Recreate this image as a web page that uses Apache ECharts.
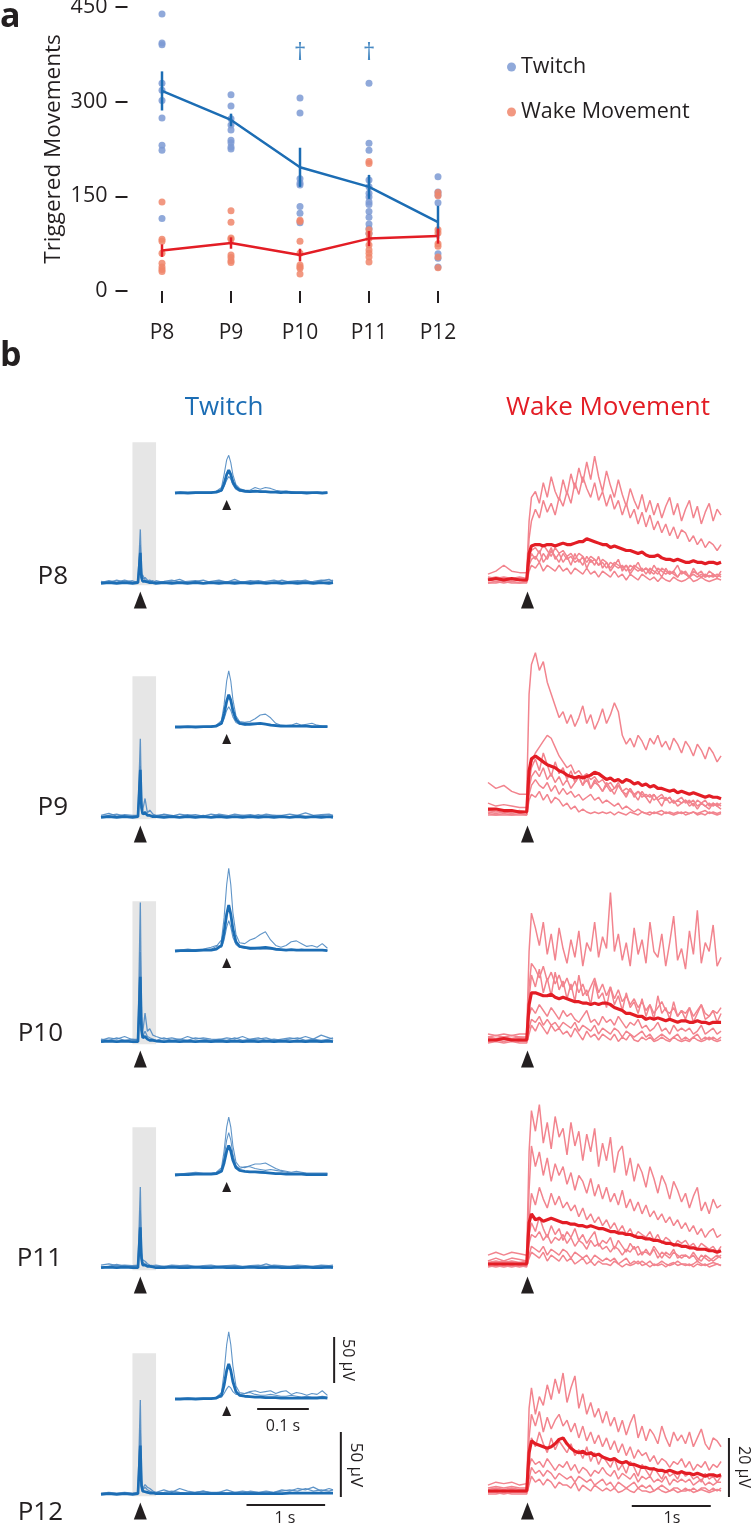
<!DOCTYPE html>
<html>
<head>
<meta charset="utf-8">
<script src="https://cdn.jsdelivr.net/npm/echarts@6/dist/echarts.min.js"></script>
<style>
html, body { margin: 0; padding: 0; background: #fff; }
#chart { width: 752px; height: 1526px; }
</style>
</head>
<body>
<div id="chart"></div>
<script>
// ---------- panel a : triggered movements per age ----------
var ages = ['P8', 'P9', 'P10', 'P11', 'P12'];
var twitchMean = [317, 271, 196, 165, 109];
var twitchErr = [31, 10, 31, 19, 26];
var wakeMean = [64, 76, 57, 83, 87];
var wakeErr = [10, 9, 10, 12, 12];
// individual pups, one list per age
var twitchPts = [
    [439, 393, 390, 329, 318, 302, 274, 231, 223, 115],
    [311, 293, 273, 263, 255, 239, 235, 228, 225],
    [306, 282, 178, 171, 168, 134, 123, 108],
    [329, 234, 223, 176, 165, 155, 149, 141, 137, 126, 117, 106, 99, 91],
    [181, 157, 152, 140, 59, 52, 38]
];
var wakePts = [
    [141, 82, 79, 60, 44, 38, 34, 31],
    [127, 109, 84, 82, 57, 53, 48, 45],
    [112, 110, 79, 60, 41, 38, 36, 27],
    [205, 202, 97, 91, 83, 73, 65, 60, 54, 46],
    [156, 151, 97, 92, 75, 71, 54, 37]
];
var daggerAges = [2, 3];
var daggerLevel = 377;

// ---------- panel b : triggered spinal activity (µV) ----------
// time (s) of the full twitch traces
var tMain = [-0.5, -0.4, -0.3, -0.2, -0.1, -0.03, 0, 0.015, 0.03, 0.06, 0.09, 0.12, 0.16, 0.2,
    0.3, 0.4, 0.5, 0.6, 0.7, 0.8, 0.9, 1.0, 1.1, 1.2, 1.3, 1.4, 1.5, 1.6, 1.7, 1.8, 1.9, 2.0,
    2.1, 2.2, 2.3, 2.4, 2.45];
// time (s) of the zoomed twitch insets
var tInset = [-0.1, -0.09, -0.075, -0.06, -0.045, -0.03, -0.02, -0.01, -0.005, 0,
    0.004, 0.008, 0.012, 0.018, 0.025,
    0.035, 0.045, 0.055, 0.065, 0.075, 0.085, 0.095, 0.105, 0.115, 0.125, 0.135, 0.145, 0.155,
    0.165, 0.175, 0.185, 0.195];
// time (s) of the wake traces
var tWake = [-0.5, -0.4, -0.3, -0.2, -0.1, -0.01,
    0.02, 0.05, 0.1, 0.15, 0.2, 0.25, 0.3, 0.35, 0.4, 0.45,
    0.5, 0.55, 0.6, 0.65, 0.7, 0.75, 0.8, 0.85, 0.9, 0.95,
    1.0, 1.05, 1.1, 1.15, 1.2, 1.25, 1.3, 1.35, 1.4, 1.45,
    1.5, 1.55, 1.6, 1.65, 1.7, 1.75, 1.8, 1.85, 1.9, 1.95,
    2.0, 2.05, 2.1, 2.15, 2.2, 2.25, 2.3, 2.35, 2.4, 2.45];

// twitch traces: first = mean, rest = individual pups
var twP8 = [
    [0.5,1,0.5,1,0.5,1, 24, 5,2,2,1.5,1,1,0.5, 1,0.5,1,0.5,1,0.5,1,0.5,1,0.5, 1,0.5,1,0.5,1,0.5,1,0.5,1,0.5, 1,0.5,1],
    [1,2.5,1.5,3,1.5,2, 42, 9,4,5,3,2,2.5,1.5, 2,3,1.5,2,2.5,1,2,3,1.5,2, 1.5,2.5,1,2,3,1.5,2,2.5,1.5,2, 3,2,3],
    [2,1,3,1.5,2.5,1, 30, 5,7,3,2,3,1,2.5, 1,2,3.5,1,2,3,1,2,1.5,3.5, 1,2,2.5,1.5,1,3,1.5,2,3,1, 2.5,3.5,2]
];
var twP9 = [
    [0.5,1,0.5,1,0.5,1, 37, 8,3,4,2,2,1,1, 0.5,1,0.5,1,0.5,1,0.5,1,0.5,1, 0.5,1,0.5,1,0.5,1,0.5,1,0.5,1, 0.5,1,0.5],
    [2,3.5,1.5,2.5,2,2, 61, 12,6,15,4,6,3,2, 2.5,1.5,3,2,2.5,1.5,3,2,1.5,3, 2,2.5,1.5,3,2,2,3,2,4,2, 2.5,3,2],
    [1,2,3,1.5,1,1.5, 40, 7,3,5,3,2,2,1, 3,2,1,2.5,1,2,1,3,2,1, 2,1,2.5,1,2,1.5,1,2,1.5,1, 2,1,2]
];
var twP10 = [
    [1,1.5,1,1.5,1,1, 51, 10,4,5,3,2,2,1.5, 1,1.5,1,1.5,1,1.5,1,1.5,1,1.5, 1,1.5,1,1.5,1,1.5,1,1.5,1,1.5, 1,1.5,1],
    [2,4,3,5,2.5,3, 108, 20,8,23,9,11,6,5, 3,4,2.5,5,3,4,3,2.5,4,3, 5,2.5,3,4,2,3,4,3,5,3, 6,4,3],
    [3,2,4,2,3,2, 70, 12,5,9,5,4,3,2, 4,2,3,2,4,3,2,3,2,4, 2,3,4,2,3,2,3,4,2,3, 2,3,4]
];
var twP11 = [
    [1,1.5,1,1.5,1,1, 32, 8,3,3,2,2,1.5,1, 1,1.5,1,1,1.5,1,1,1.5,1,1, 1,1.5,1,1,1.5,1,1,1,1.5,1, 1,1.5,1],
    [3,4,2.5,3,2.5,3, 63, 12,7,6,4,3,2.5,3, 2,3,2.5,3,2,2.5,3,2,2.5,3, 2,2.5,3,2,3,2.5,2,3,2.5,2, 3,2.5,3],
    [1.5,2,3.5,2,2,2.5, 45, 9,5,4,3,2.5,2,1.5, 2,1.5,2,2.5,1.5,2,1.5,2,2.5,2, 1.5,2,2,4,2,1.5,2,2,1.5,2, 2.5,2,2]
];
var twP12 = [
    [0.5,1,0.5,1,0.5,1, 38, 7,3,2.5,2,1.5,1.5,1, 1,1,1,1,1,1,1,1,1,1, 1,1,1,1,1,1,1.5,1.5,1.5,1.5, 1.5,1.5,1.5],
    [1.5,2,1.5,2,1.5,2, 73, 11,5,8,6,5,3,2, 4,2,5,3,2,3,2,2,4,2, 3,2,2,3,2,4,3,5,4,6, 3,5,4],
    [1,1.5,1,1.5,1,1.5, 50, 8,4,6,4,3,2,1.5, 2,3,2,1.5,2,3,1.5,2,1.5,2, 1.5,3,2,1.5,2,3,4,3,5,3, 4,3,4]
];

// zoomed twitch insets: first = mean
var inP8 = [
    [0,0.5,0,0.5,0.5,0.5,1,3,10,20, 25,20,12,6,3, 2,1.5,2,1.5,1.5,1,1,0.5,1,0.5, 0.5,0.5,0,0.5,0.5,0,0.5],
    [0.5,1,0.5,1,1,1,2,6,20,36, 41,33,20,9,5, 3,3,6,4,6,5,3,2,2,1.5, 1,1,1,0.5,1,0.5,1],
    [0,0,0.5,0.5,0,0.5,0.5,2,7,14, 18,15,9,4,2, 1,1,1.5,2,1,1.5,0.5,0.5,0.5,0, 0.5,0,0,0,0.5,0,0]
];
var inP9 = [
    [0,0,0.5,0,0.5,0.5,1,4,14,28, 35,29,18,8,4, 3,3,3.5,4,3,2,1.5,1,1,1, 1,1,1,0.5,0.5,0.5,0.5],
    [0.5,0,0.5,0.5,0.5,1,2,7,24,50, 61,50,30,12,6, 5,6,9,13,14,10,4,2,1.5,2, 4,2,3,4,2,1,1],
    [0,0.5,0,0.5,0,0,1,3,9,18, 22,18,11,5,3, 2,4,4,4,3,3,2,1,1,1, 0.5,1,0.5,0.5,0.5,0.5,0]
];
var inP10 = [
    [0,0.5,0.5,0.5,1,1,2,6,20,40, 50,40,24,10,5, 4,3,3,3.5,4,3,2,1.5,1,1.5, 1,1,1,1,1,1,0.5],
    [0.5,1,2,1,1,2,5,12,36,72, 90,72,42,18,9, 8,12,14,18,21,12,6,4,6,10, 11,8,5,6,4,8,3],
    [0,0,0.5,1.5,2,4,6,4,12,26, 33,26,15,7,4, 3,2,3,2,2,2,1,1,1,1, 1,2,1,1,1,1,0.5]
];
var inP11 = [
    [0,0.5,0.5,1,1,1,1.5,4,13,26, 32,26,16,8,5, 4,3.5,3.5,3,2.5,2,1.5,1.5,1,1, 1,1,0.5,0.5,0.5,0.5,0.5],
    [1,1,2,3,2,2,3,8,26,52, 63,52,32,14,9, 8,10,12,12,13,10,7,5,4,3, 4,3,2,2,2,2,2],
    [0.5,0.5,1,1,0.5,1,2,6,19,38, 46,38,23,10,7, 9,9,7,6,5,6,5,4,3,2, 2,2,1.5,1,1,1,1]
];
var inP12 = [
    [0,0,0.5,0,0.5,0.5,1,4,15,31, 38,31,19,8,4, 3,2.5,2,2,1.5,1.5,1.5,1,1,1, 1,1,1,1,1,1.5,1],
    [0.5,0.5,1,0.5,1,1,2,7,29,59, 73,59,36,14,7, 6,8,9,7,8,9,6,8,9,5, 7,6,4,6,5,9,4],
    [0,0,0.5,0.5,0.5,0.5,1,2,6,11, 14,12,8,5,5, 6,7,5,4,4,5,4,3,3,4, 3,2,3,2,2,3,2]
];

// wake traces: first = mean
var wkP8 = [
    [0,0.5,0,0.5,0,0, 9,11.5,12,12,11.5,12,12,11.5,12,12.5, 12,12,12.5,13,13,14,13.5,13,12.5,12,
     12,11,11.5,11,10.5,10,10,9.5,9,9.5, 8.5,8,8,8.5,7.5,7,7,6.5,7,6.5, 6,6,6.5,6,6,5.5,6,6,5.5,6],
    [2,3,5,3,2.5,2.5, 20,28,30,26,33,28,35,30,27,34, 29,36,31,38,33,40,34,42,35,30,
     37,32,28,34,29,25,31,27,24,29, 23,27,22,26,21,25,28,22,26,20, 24,27,21,25,19,23,26,20,24,22],
    [1,0.5,1,0.5,1,0.5, 14,20,24,21,27,23,26,22,28,25, 30,26,33,29,35,31,28,33,27,30,
     25,29,24,27,22,26,21,24,19,23, 18,22,17,20,16,19,15,18,14,17, 16,13,15,12,14,11,13,12,10,12],
    [-1,-0.5,-1,-0.5,-1,-0.5, 5,7,8,6,9,7,10,8,6,9, 7,8,6,7,5,8,6,7,5,6,
     4,6,5,4,5,3,5,4,3,4, 2,4,3,2,4,3,2,3,1,3, 2,1,3,2,1,2,1,2,1,2],
    [0,-0.5,0,-0.5,0,-0.5, 8,10,11,9,12,10,8,11,9,10, 8,9,7,9,8,6,8,7,5,7,
     6,4,6,5,4,5,3,5,4,3, 4,3,2,4,3,2,3,2,1,3, 2,1,2,1,2,1,1.5,1,2,1],
    [0.5,1,0.5,0,0.5,0, 6,9,7,10,6,8,11,7,9,6, 8,5,9,6,8,4,7,5,8,4,
     6,3,5,7,3,5,2,4,6,3, 4,2,5,3,1,4,2,3,5,2, 3,1,4,2,3,1,3,2,1,3],
    [-1,-1,-0.5,-1,-1,-1, 3,5,4,6,3,5,4,3,5,3, 4,2,4,3,2,4,2,3,1,3,
     2,1,3,1,2,0,2,1,0,2, 1,0,1,-0.5,1,0,-0.5,1,0,-0.5, 0,1,-0.5,0,1,0,-0.5,0,0.5,0]
];
var wkP9 = [
    [1,1,0.5,0.5,0,0, 14,18,19,18,17,16,15.5,15,14,13.5, 12.5,12,11.5,12,11.5,12,12.5,13.5,13,12,
     11,11.5,10.5,11,10,11,10.5,9.5,10,9, 9.5,8.5,9,8,8,7.5,7,7.5,6.5,7, 6.5,6,6.5,6,5.5,5,5.5,5,5,4.5],
    [10,8,9,7,6,6, 40,50,54,48,51,44,40,36,32,34, 30,33,29,32,36,30,33,28,31,35,
     30,33,37,34,26,23,25,22,26,24, 21,25,23,26,22,24,21,25,23,20, 24,22,19,23,21,18,22,20,17,19],
    [3,2,2.5,2,1.5,1.5, 12,17,20,22,24,26,25,22,19,17, 15,16,13,14,12,13,11,12,10,11,
     9,10,8,9,7,8,7,6,7,5, 6,5,6,4,5,4,5,3,4,3, 4,3,4,2,3,4,2,3,2,3],
    [-1,-1,-1,-1,-1,-1, 6,9,11,9,8,10,7,9,6,8, 6,7,5,6,4,5,6,4,5,3,
     4,3,2,3,1,2,1,0,1,0, -0.5,0,-0.5,0,0.5,-0.5,0,-0.5,0,-0.5, 0,-0.5,0,-0.5,0,0.5,-0.5,0,-0.5,0],
    [0,-0.5,0,-0.5,0,0, 8,12,14,12,15,11,13,10,12,9, 11,8,10,12,9,11,8,10,9,7,
     9,7,8,10,7,6,8,5,7,6, 5,6,4,5,6,4,5,3,4,5, 3,4,2,4,3,2,3,2,3,2],
    [0.5,0,0.5,0,0.5,0, 10,15,18,14,20,16,12,17,13,15, 11,14,10,12,9,13,8,11,9,7,
     10,8,6,9,7,5,8,6,4,7, 5,3,6,4,2,5,3,4,2,3, 4,2,3,1,3,2,1,3,2,1],
    [-0.5,-1,-0.5,-1,-0.5,-1, 4,6,5,7,4,6,3,5,4,2, 3,1,2,0,1,0,-0.5,0,-0.5,0,
     -0.5,0,-1,0,-0.5,-1,0,-0.5,-1,0, -0.5,-1,0,-0.5,-1,0,-0.5,-1,-0.5,0, -1,-0.5,0,-1,-0.5,-1,0,-0.5,-1,-0.5]
];
var wkP10 = [
    [0,0,0.5,0,0,0, 12,16,16,15.5,15,15,15.5,14.5,14,14.5, 14,13.5,13,13,12.5,12.5,12,12.5,12,12.5,
     12.5,12,11,10.5,10,9,9,8.5,8,8, 7,7.5,7,7.5,7,6.5,7,6.5,6,6.5, 6.5,6,6,6.5,6,6,5.5,6,6,6],
    [2,1.5,2,1.5,2,2, 30,43,38,32,40,29,36,27,38,31, 26,34,28,37,25,33,30,40,28,35,
     31,50,30,36,27,33,25,38,29,34, 26,40,30,28,36,25,33,42,27,31, 24,37,29,44,26,33,30,39,25,28],
    [1,1.5,1,1.5,1,1, 18,26,24,21,25,20,23,19,22,18, 21,17,20,16,19,15,18,21,16,19,
     15,18,14,17,13,15,12,14,11,13, 10,12,9,11,13,10,9,11,8,10, 9,11,8,10,12,9,8,10,9,11],
    [-0.5,0,-0.5,0,-0.5,-0.5, 4,7,6,8,5,7,5,6,4,6, 5,4,6,3,5,4,3,5,2,4,
     3,2,4,3,1,3,2,1,2,3, 1,2,0,1,2,1,0,1,2,0, 1,0,1,2,0,1,0,1,0,1],
    [0.5,0,0.5,0,0.5,0, 8,11,9,12,10,8,11,9,7,10, 8,9,7,6,8,10,6,7,5,8,
     6,7,5,8,6,4,6,5,7,4, 5,3,4,6,3,4,2,5,3,4, 3,4,2,3,5,2,3,4,2,3],
    [1,0.5,1,0.5,1,0.5, 14,22,18,24,16,21,15,23,17,20, 14,19,13,22,15,17,12,20,14,16,
     11,18,12,15,10,16,11,13,9,14, 8,12,7,15,9,11,7,13,8,10, 7,11,6,9,12,7,8,10,6,9],
    [-1,-0.5,-1,-0.5,-1,-1, 2,5,3,6,4,2,5,3,4,2, 3,1,4,2,0,3,1,2,0,2,
     1,0,2,-0.5,1,0,2,0,-0.5,1, 0,1,-0.5,0,1,0,-0.5,1,0,-0.5, 0,-0.5,1,0,-0.5,0,1,0,-0.5,0]
];
var wkP11 = [
    [0,0,0,0,0,0, 14,17,15,15.5,14.5,15,15.5,15,14.5,14, 14,13.5,13.5,13,13,12.5,13,12.5,12,12,
     11.5,11,11,10.5,10.5,10,10,9.5,9,9, 8.5,8.5,8,8,7.5,7,7,6.5,6.5,6, 6,5.5,5.5,5,5,5,4.5,4.5,4,4.5],
    [3,4,3,4,3.5,3, 38,52,45,54,41,48,39,50,43,46, 37,48,40,45,35,44,38,46,33,41,
     35,43,31,38,40,30,36,28,34,31, 26,33,29,24,30,27,22,28,25,21, 24,19,23,26,18,21,17,22,19,20],
    [1,2,1,2,1.5,1, 25,40,33,38,30,36,28,34,30,33, 27,31,25,30,28,24,29,23,27,22,
     26,21,24,20,25,19,22,18,21,17, 20,16,18,15,17,14,16,13,15,12, 14,11,13,10,12,9,11,12,9,10],
    [0.5,1,0.5,1,0.5,1, 15,24,20,26,22,19,24,20,23,19, 21,18,20,16,19,15,17,14,16,13,
     15,12,14,11,13,10,12,9,11,10, 9,11,8,10,7,9,8,6,8,7, 8,6,7,5,7,6,5,6,4,6],
    [-0.5,-1,-0.5,-1,-0.5,-1, 3,6,5,4,6,3,5,4,3,5, 4,2,4,3,2,3,1,3,2,1,
     2,1,2,0,1,2,0,1,0,1, 0,1,-0.5,0,1,0,-0.5,0,1,0, 0,-0.5,0,1,0,-0.5,0,0.5,0,-0.5],
    [0,0.5,0,0.5,0,0.5, 7,10,9,11,8,10,7,9,8,10, 7,9,6,8,7,5,8,6,7,5,
     6,4,6,5,3,5,4,6,3,4, 4,3,5,2,4,3,2,4,3,2, 3,2,3,1,3,2,1,2,3,2],
    [0.5,0,1,0,0.5,0, 10,14,11,16,12,9,13,10,12,8, 11,9,12,8,10,7,9,11,6,8,
     7,9,5,8,6,4,7,5,6,3, 5,3,6,4,2,4,3,5,2,3, 3,2,4,2,1,3,2,1,2,3],
    [-1,-0.5,-1,-0.5,-1,-0.5, 2,4,3,2,4,1,3,2,1,3, 1,2,0,1,2,0,1,-0.5,1,0,
     0,-0.5,1,0,-1,0,-0.5,0,1,-0.5, 0,-1,0,-0.5,0,-1,0,0.5,-0.5,0, -0.5,0,-1,0,-0.5,0,-1,-0.5,0,-0.5]
];
var wkP12 = [
    [0,0,0,0,0,0, 13,17,16,15.5,15,14.5,15,16,17.5,18, 16,14.5,13.5,13,13.5,12.5,13,12,12.5,11.5,
     11,10.5,11,10,9.5,10,9,9,8.5,8, 8,7.5,7.5,7,7,6.5,7,6.5,6,6.5, 6,6,5.5,6,5.5,5,5.5,5.5,5,5.5],
    [2,3,2.5,3,2,2.5, 28,35,26,32,29,36,31,38,33,40, 30,35,39,28,33,26,30,25,28,23,
     27,22,25,20,24,19,23,26,18,22, 17,21,19,16,22,18,15,20,17,19, 16,20,15,18,21,16,14,18,17,15],
    [1,1.5,1,1.5,1,1, 18,26,22,27,20,25,21,24,26,22, 24,20,23,18,22,17,20,16,19,15,
     18,14,17,13,16,12,15,11,14,12, 13,10,12,9,11,10,8,10,9,11, 8,10,7,9,8,10,7,9,8,10],
    [-0.5,-0.5,-1,-0.5,-0.5,-0.5, 4,8,6,7,5,7,6,4,6,5, 4,5,3,5,4,3,4,2,3,4,
     2,3,1,3,2,1,2,3,1,2, 1,2,0,1,2,1,0,1,1,0, 1,0,1,0,1,1,0,1,0,1],
    [0.5,1,0.5,1,0.5,0.5, 8,11,9,10,8,11,9,7,9,8, 10,7,9,6,8,7,5,7,6,8,
     6,5,7,4,6,5,4,6,3,5, 4,5,3,4,3,5,2,4,3,4, 3,4,2,3,4,2,3,2,3,3],
    [0,0.5,0,0.5,0,0.5, 12,18,15,20,16,13,18,14,17,15, 13,16,12,14,11,15,10,13,9,12,
     10,8,11,7,9,6,10,8,5,9, 7,5,8,6,4,7,5,6,4,7, 5,6,4,5,3,6,4,5,3,5],
    [-1,-1,-0.5,-1,-1,-1, 2,5,3,4,2,4,3,1,3,2, 2,1,3,0,2,1,0,2,1,0,
     1,0,1,-0.5,0,1,0,-0.5,1,0, 0,-0.5,0,1,0,-0.5,0,0.5,-0.5,0, 0,0.5,-0.5,0,0.5,0,-0.5,0,0.5,0]
];

var twitchRows = [twP8, twP9, twP10, twP11, twP12];
var insetRows = [inP8, inP9, inP10, inP11, inP12];
var wakeRows = [wkP8, wkP9, wkP10, wkP11, wkP12];

// ---------- layout ----------
var FONT = 'Open Sans';
var INK = '#231f20';
var BLUE = '#1c6db4';
var BLUE_THIN = '#4f89c2';
var RED = '#e31d25';
var PINK = '#f2848e';

var baseTwitch = [584, 818, 1043, 1269, 1495];
var baseInset = [493, 727, 951, 1175, 1399];
var baseWake = [580, 812, 1040, 1264, 1491];
var labelX = [68, 68, 63, 62, 63];
var labelY = [577, 808, 1034, 1259, 1513];
var scMain = 1.3, scInset = 0.92, scWake = 2.95; // px per µV
var pxSecMain = 78.64, pxSecInset = 516.7, pxSecWake = 79; // px per s

var grids = [], xAxes = [], yAxes = [], series = [];

// panel a
grids.push({ left: 127.5, top: 7, width: 345, height: 284, outerBoundsMode: 'none' });
xAxes.push({
    type: 'category', gridIndex: 0, data: ages, offset: 12,
    axisLine: { show: false },
    axisTick: { show: true, alignWithLabel: true, length: 12, lineStyle: { color: INK, width: 2 } },
    axisLabel: { color: INK, fontSize: 21, fontFamily: FONT, margin: 20 }
});
yAxes.push({
    type: 'value', gridIndex: 0, min: 0, max: 450, interval: 150,
    name: 'Triggered Movements', nameLocation: 'middle', nameGap: 62,
    nameTextStyle: { color: INK, fontSize: 22.5, fontFamily: FONT },
    axisLine: { show: false }, splitLine: { show: false },
    axisTick: { show: true, length: 12, lineStyle: { color: INK, width: 2 } },
    axisLabel: { color: INK, fontSize: 21.5, fontFamily: FONT, margin: 20 }
});

function dots(lists) {
    var out = [];
    lists.forEach(function (vals, i) {
        vals.forEach(function (v) { out.push([i, v]); });
    });
    return out;
}
function errBars(mean, err, color) {
    return {
        type: 'custom', xAxisIndex: 0, yAxisIndex: 0, z: 4,
        data: mean.map(function (m, i) { return [i, m - err[i], m + err[i]]; }),
        renderItem: function (params, api) {
            var a = api.coord([api.value(0), api.value(1)]);
            var b = api.coord([api.value(0), api.value(2)]);
            return { type: 'line', shape: { x1: a[0], y1: a[1], x2: b[0], y2: b[1] },
                     style: { stroke: color, lineWidth: 2.5 } };
        }
    };
}
series.push({
    name: 'Twitch', type: 'scatter', xAxisIndex: 0, yAxisIndex: 0, symbolSize: 7, z: 2,
    itemStyle: { color: '#7d9ad3', opacity: 0.85 }, data: dots(twitchPts)
});
series.push({
    name: 'Wake Movement', type: 'scatter', xAxisIndex: 0, yAxisIndex: 0, symbolSize: 7, z: 2,
    itemStyle: { color: '#f0866b', opacity: 0.85 }, data: dots(wakePts)
});
series.push({
    type: 'line', xAxisIndex: 0, yAxisIndex: 0, symbol: 'none', z: 3,
    lineStyle: { color: BLUE, width: 2.5 }, data: twitchMean
});
series.push({
    type: 'line', xAxisIndex: 0, yAxisIndex: 0, symbol: 'none', z: 3,
    lineStyle: { color: RED, width: 2.5 }, data: wakeMean
});
series.push(errBars(twitchMean, twitchErr, BLUE));
series.push(errBars(wakeMean, wakeErr, RED));
series.push({
    type: 'scatter', xAxisIndex: 0, yAxisIndex: 0, symbolSize: 0,
    data: daggerAges.map(function (i) { return [i, daggerLevel]; }),
    label: { show: true, position: 'inside', formatter: '\u2020', color: BLUE, fontSize: 24, fontFamily: FONT }
});

// panel b helpers
function addPanel(left, pxSec, base, sc, xMin, xMax, yMin, yMax) {
    var gi = grids.length;
    grids.push({ left: left, top: base - yMax * sc, width: (xMax - xMin) * pxSec,
                 height: (yMax - yMin) * sc, outerBoundsMode: 'none' });
    xAxes.push({ type: 'value', gridIndex: gi, min: xMin, max: xMax, show: false });
    yAxes.push({ type: 'value', gridIndex: gi, min: yMin, max: yMax, show: false });
    return gi;
}
function trace(gi, t, vals, color, width, z, opacity) {
    return {
        type: 'line', xAxisIndex: gi, yAxisIndex: gi, symbol: 'none', z: z, silent: true,
        lineStyle: { color: color, width: width, opacity: opacity === undefined ? 1 : opacity },
        data: vals.map(function (v, i) { return [t[i], v]; })
    };
}
function arrow(gi, y, size) {
    return {
        type: 'scatter', xAxisIndex: gi, yAxisIndex: gi, clip: false, symbol: 'triangle',
        symbolSize: size, itemStyle: { color: INK, opacity: 1 }, z: 6, data: [[0, y]]
    };
}
function bar(gi, pts) {
    return {
        type: 'line', xAxisIndex: gi, yAxisIndex: gi, clip: false, symbol: 'none', z: 6,
        lineStyle: { color: INK, width: 2 }, data: pts
    };
}

var arrowDrop = 16; // px below the twitch baseline
var mainGi = [], insetGi = [], wakeGi = [];
for (var r = 0; r < ages.length; r++) {
    // full twitch trace
    var g = addPanel(101, pxSecMain, baseTwitch[r], scMain, -0.5, 2.6, -28 / scMain, 115);
    mainGi.push(g);
    twitchRows[r].slice(1).forEach(function (v) {
        series.push(trace(g, tMain, v, BLUE_THIN, 1.3, 3, 0.9));
    });
    var meanMain = trace(g, tMain, twitchRows[r][0], BLUE, 2.7, 4);
    meanMain.markArea = {
        silent: true, itemStyle: { color: '#e6e6e6' },
        data: [[{ coord: [-0.1, -1] }, { coord: [0.2, 109] }]]
    };
    series.push(meanMain);
    series.push(arrow(g, -arrowDrop / scMain, [13, 17]));

    // zoomed inset
    var gI = addPanel(175, pxSecInset, baseInset[r], scInset, -0.1, 0.21, -20 / scInset, 100);
    insetGi.push(gI);
    insetRows[r].slice(1).forEach(function (v) {
        series.push(trace(gI, tInset, v, BLUE_THIN, 1.1, 3, 0.9));
    });
    series.push(trace(gI, tInset, insetRows[r][0], BLUE, 2.8, 4));
    series.push(arrow(gI, -12 / scInset, [9, 10]));

    // wake traces
    var gW = addPanel(488, pxSecWake, baseWake[r], scWake, -0.5, 2.6, -28 / scWake, 56);
    wakeGi.push(gW);
    wakeRows[r].slice(1).forEach(function (v) {
        series.push(trace(gW, tWake, v, PINK, 1.5, 3));
    });
    series.push(trace(gW, tWake, wakeRows[r][0], RED, 3.2, 4));
    series.push(arrow(gW, (baseWake[r] - baseTwitch[r] - arrowDrop) / scWake, [13, 17]));
}

// scale bars (1 s / 50 µV, 0.1 s / 50 µV, 1 s / 20 µV)
var last = ages.length - 1;
series.push(bar(mainGi[last], [[1.35, -7.7], [2.35, -7.7]]));
series.push(bar(mainGi[last], [[2.55, -1.5], [2.55, 48.5]]));
series.push(bar(insetGi[last], [[0.059, -10.9], [0.159, -10.9]]));
series.push(bar(insetGi[last], [[0.208, 17.4], [0.208, 67.4]]));
series.push(bar(wakeGi[last], [[1.32, -5.1], [2.32, -5.1]]));
series.push(bar(wakeGi[last], [[2.55, -2], [2.55, 18]]));

// texts
function txt(x, y, s, size, color, opts) {
    opts = opts || {};
    return {
        type: 'text', x: x, y: y, rotation: opts.rot || 0, silent: true,
        style: {
            text: s, fill: color || INK, fontSize: size, fontFamily: FONT,
            fontWeight: opts.bold ? 'bold' : 'normal',
            align: opts.align || 'center', verticalAlign: 'middle'
        }
    };
}
var graphics = [
    txt(0, 17, 'a', 34, INK, { bold: true, align: 'left' }),
    txt(0, 356, 'b', 34, INK, { bold: true, align: 'left' }),
    txt(224, 408, 'Twitch', 26, BLUE),
    txt(608, 408, 'Wake Movement', 26, RED),
    txt(283, 1426, '0.1 s', 16),
    txt(348, 1360, '50 \u00b5V', 16, INK, { rot: -Math.PI / 2 }),
    txt(285, 1518, '1 s', 16),
    txt(356, 1465, '50 \u00b5V', 17, INK, { rot: -Math.PI / 2 }),
    txt(672, 1518, '1s', 16),
    txt(744, 1467, '20 \u00b5V', 16, INK, { rot: -Math.PI / 2 })
];
ages.forEach(function (a, i) {
    graphics.push(txt(labelX[i], labelY[i], a, 26, INK, { align: 'right' }));
});

var chart = echarts.init(document.getElementById('chart'), null, { renderer: 'canvas' });
chart.setOption({
    animation: false,
    backgroundColor: '#fff',
    textStyle: { fontFamily: FONT },
    legend: {
        data: [{ name: 'Twitch', icon: 'circle' }, { name: 'Wake Movement', icon: 'circle' }],
        orient: 'vertical', left: 502, top: 51, itemWidth: 9, itemHeight: 9, itemGap: 23,
        textStyle: { color: INK, fontSize: 21.5, fontFamily: FONT }
    },
    grid: grids,
    xAxis: xAxes,
    yAxis: yAxes,
    series: series,
    graphic: graphics
});
</script>
</body>
</html>
